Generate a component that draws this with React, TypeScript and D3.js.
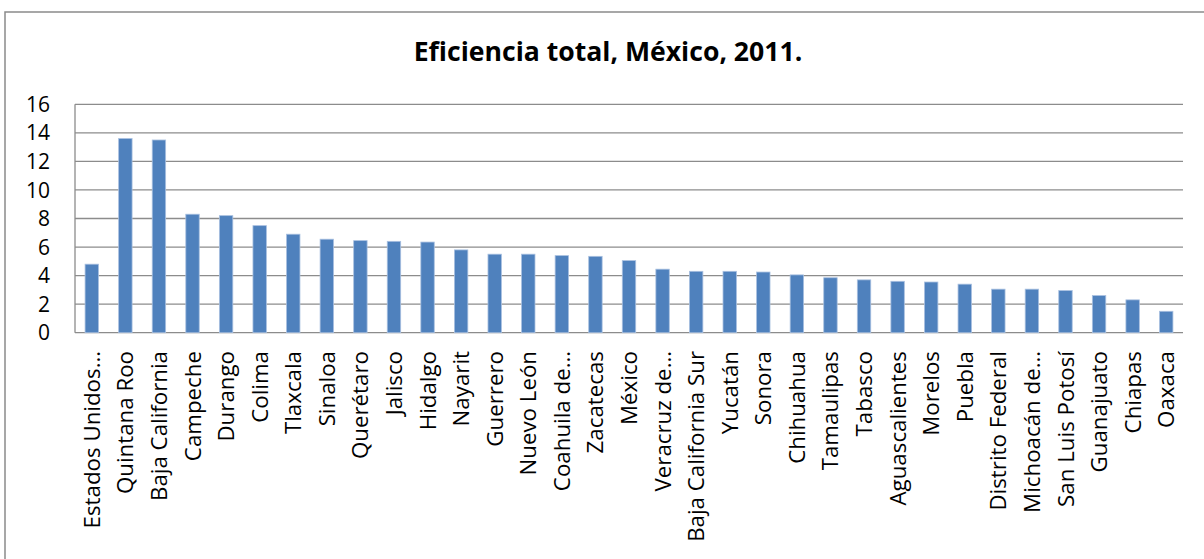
import React from "react";
import * as d3 from "d3";

const categories = [
  "Estados Unidos…", "Quintana Roo", "Baja California", "Campeche", "Durango", "Colima",
  "Tlaxcala", "Sinaloa", "Querétaro", "Jalisco", "Hidalgo", "Nayarit", "Guerrero",
  "Nuevo León", "Coahuila de…", "Zacatecas", "México", "Veracruz de…",
  "Baja California Sur", "Yucatán", "Sonora", "Chihuahua", "Tamaulipas", "Tabasco",
  "Aguascalientes", "Morelos", "Puebla", "Distrito Federal", "Michoacán de…",
  "San Luis Potosí", "Guanajuato", "Chiapas", "Oaxaca",
];
const values = [
  4.8, 13.6, 13.5, 8.3, 8.2, 7.5, 6.9, 6.55, 6.45, 6.4, 6.35, 5.8, 5.5, 5.5, 5.4, 5.35,
  5.05, 4.45, 4.3, 4.3, 4.25, 4.05, 3.85, 3.7, 3.6, 3.55, 3.4, 3.05, 3.05, 2.95, 2.6,
  2.3, 1.5,
];
const yTicks = [0, 2, 4, 6, 8, 10, 12, 14, 16];
const title = "Eficiencia total, México, 2011.";

export default function App() {
  const W = 1204, H = 559;
  const left = 75, right = 1183, top = 104.3, bottom = 332.7;
  const x = d3.scaleBand<string>().domain(categories).range([left, right]).paddingInner(0.6).paddingOuter(0.3);
  const y = d3.scaleLinear().domain([0, 16]).range([bottom, top]);
  const font = "'Open Sans', sans-serif";
  return (
    <svg width={W} height={H} style={{ position: "absolute", left: 0, top: 0, background: "#fff" }}>
      <rect x={0} y={0} width={W} height={H} fill="#fff" />
      <rect x={5} y={12} width={W + 20} height={H + 20} fill="none" stroke="#8a8a8a" strokeWidth={1.5} />
      <text x={608} y={61} textAnchor="middle" fontFamily={font} fontWeight="bold" fontSize={26.6} fill="#000">
        {title}
      </text>
      {yTicks.map((t) => (
        <g key={t}>
          <line x1={left} x2={right} y1={y(t)} y2={y(t)} stroke="#8c8c8c" strokeWidth={1.3} />
          <text x={50} y={y(t)} dy="0.36em" textAnchor="end" fontFamily={font} fontSize={21} fill="#000">
            {t}
          </text>
        </g>
      ))}
      <line x1={left} x2={left} y1={top} y2={bottom} stroke="#8c8c8c" strokeWidth={1.3} />
      {categories.map((c, i) => (
        <rect
          key={c}
          x={x(c)!}
          y={y(values[i])}
          width={x.bandwidth()}
          height={y(0) - y(values[i])}
          fill="#4f81bd"
          stroke="#a9c0e0"
          strokeWidth={0.8}
        />
      ))}
      {categories.map((c) => {
        const cx = x(c)! + x.bandwidth() / 2;
        return (
          <text
            key={c}
            transform={`translate(${cx},351) rotate(-90)`}
            textAnchor="end"
            dy="0.36em"
            fontFamily={font}
            fontSize={22.3}
            fill="#000"
          >
            {c}
          </text>
        );
      })}
    </svg>
  );
}
